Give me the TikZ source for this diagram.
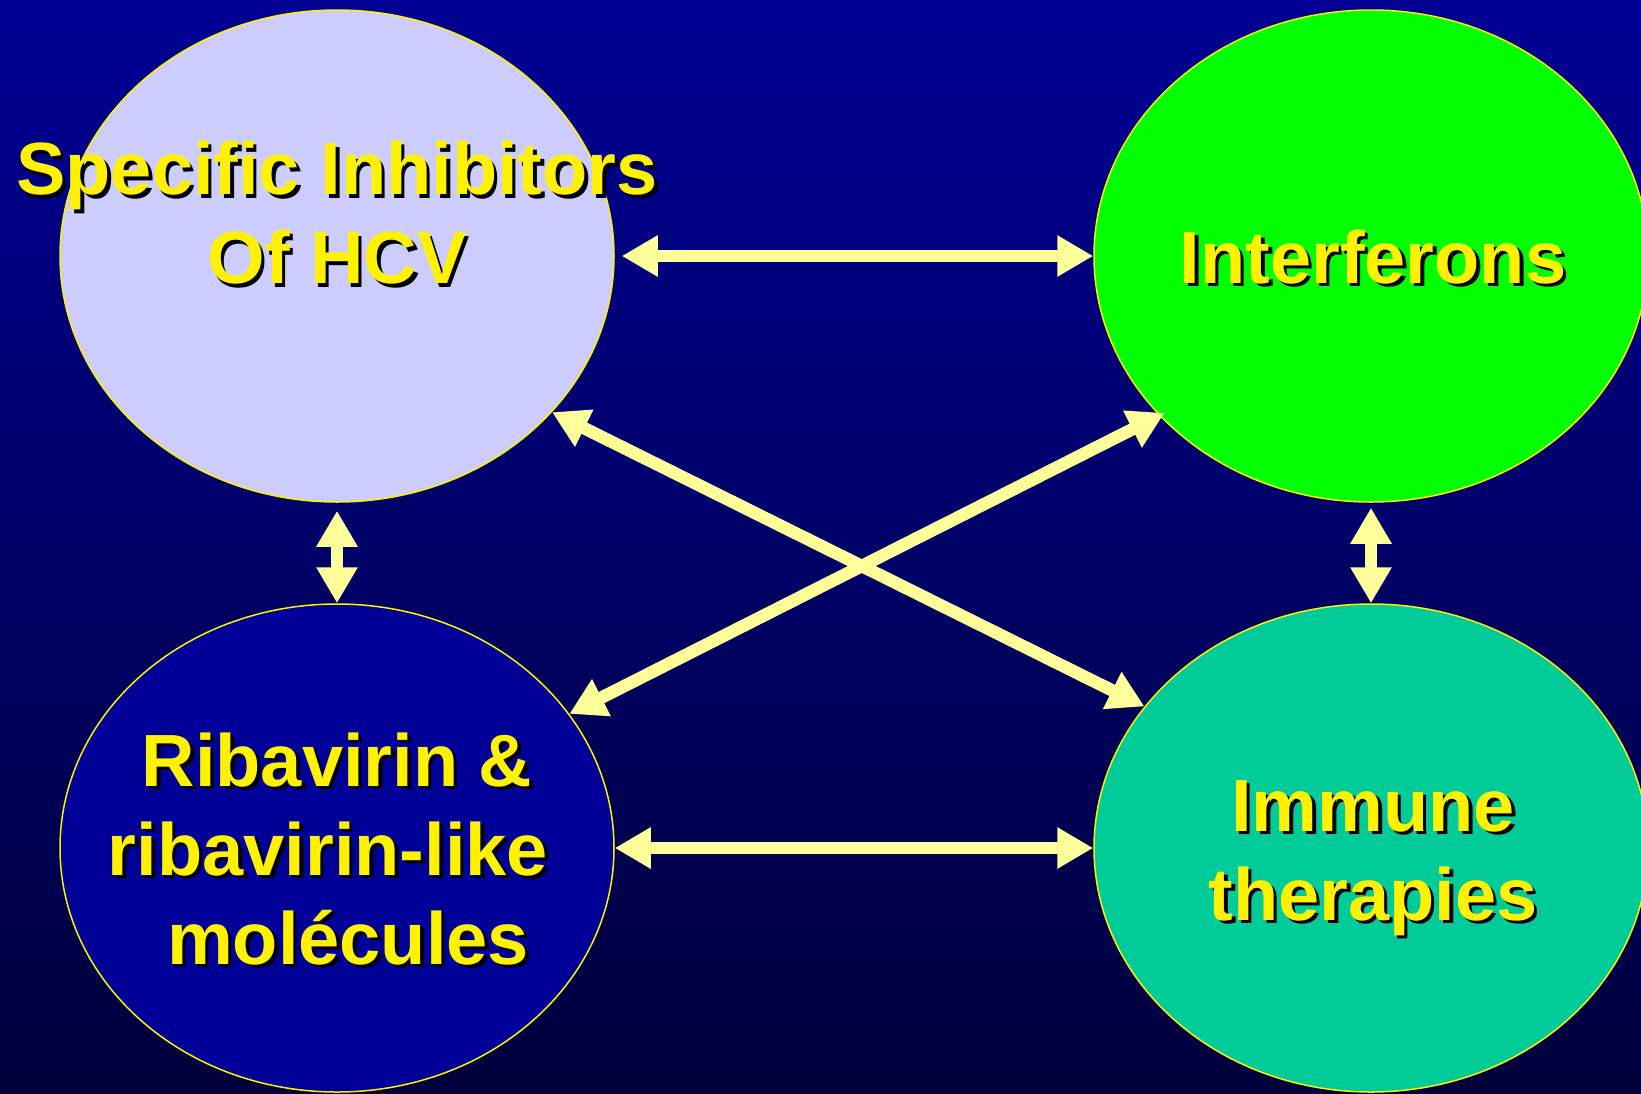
\documentclass[tikz,border=0pt]{standalone}
\usepackage{fontspec}
\setmainfont{Liberation Sans}
\usetikzlibrary{arrows.meta,shapes.geometric}
\definecolor{bgtop}{RGB}{0,0,148}
\definecolor{bgbot}{RGB}{0,0,60}
\definecolor{paleyellow}{RGB}{255,255,153}
\definecolor{lilac}{RGB}{204,204,255}
\definecolor{ifngreen}{RGB}{0,255,0}
\definecolor{ribablue}{RGB}{0,0,153}
\definecolor{immteal}{RGB}{0,204,153}
\begin{document}
\begin{tikzpicture}[x=1pt,y=-1pt,
    oval/.style={ellipse, draw=yellow, line width=1.5pt, minimum width=554pt, minimum height=492pt, inner sep=0pt},
    link/.style={paleyellow, line width=12.5pt, {Triangle[length=36pt,width=39pt]}-{Triangle[length=36pt,width=39pt]}},
    txt/.style={text=yellow, font=\fontsize{74}{89}\selectfont\bfseries, align=center, inner sep=0pt},
    txtshadow/.style={txt, text=black, xshift=3.5pt, yshift=-3.5pt}]
    \useasboundingbox (0,0) rectangle (1641,1093);
    \shade[top color=bgtop, bottom color=bgbot] (0,0) rectangle (1641,1093);
    % the four ovals
    \node[oval, fill=lilac] (inhib) at (337,256) {};
    \node[oval, fill=ifngreen] (ifn) at (1371,256) {};
    \node[oval, fill=ribablue, minimum height=488pt] (riba) at (337,848) {};
    \node[oval, fill=immteal, minimum height=488pt] (immune) at (1371,848) {};
    % labels with drop shadow
    \node[txtshadow] at (337,213) {Specific Inhibitors\\Of HCV};
    \node[txt] (inhibtxt) at (337,213) {Specific Inhibitors\\Of HCV};
    \node[txtshadow] at (1373,257) {Interferons};
    \node[txt] (ifntxt) at (1373,257) {Interferons};
    \node[txtshadow] at (337,849) {Ribavirin \&\\ribavirin-like\hspace*{18pt}\mbox{}\\\hspace*{22pt}molécules};
    \node[txt] (ribatxt) at (337,849) {Ribavirin \&\\ribavirin-like\hspace*{18pt}\mbox{}\\\hspace*{22pt}molécules};
    \node[txtshadow] at (1373,858) {Immune\\therapies};
    \node[txt] (immunetxt) at (1373,858) {Immune\\therapies};
    % connections
    \draw[link, shorten <=7pt] (inhib.east) -- (ifn.west);
    \draw[link] (riba.east) -- (immune.west);
    \draw[link, shorten <=8pt] (inhib.-90.8) -- (riba.90.8);
    \draw[link, shorten <=5pt] (ifn.south) -- (immune.north);
    \draw[link] (inhib.-36) -- (immune.148);
    \draw[link, shorten <=-6pt] (ifn.-143) -- (riba.30);
\end{tikzpicture}
\end{document}
